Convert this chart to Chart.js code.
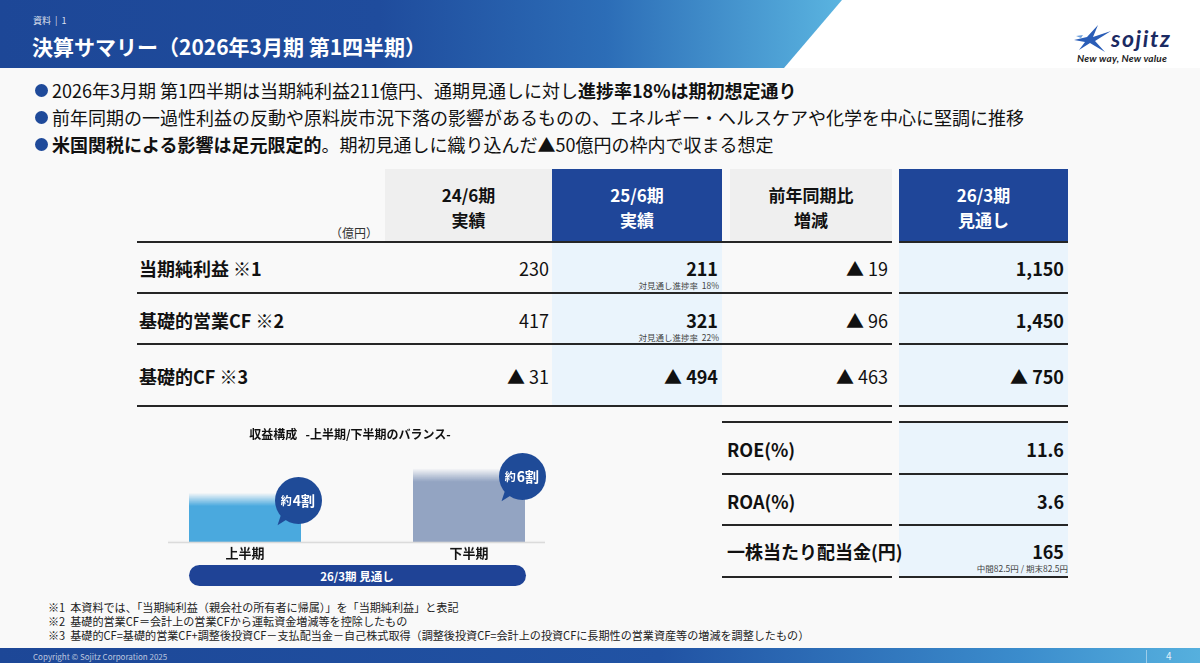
<!DOCTYPE html>
<html lang="ja">
<head>
<meta charset="utf-8">
<script src="https://cdn.jsdelivr.net/npm/chart.js@4.4.1/dist/chart.umd.min.js"></script>
<style>
*{margin:0;padding:0;box-sizing:border-box}
html,body{width:1200px;height:663px;overflow:hidden}
body{background:#f9f9f9;font-family:"Noto Sans CJK JP","Noto Sans",sans-serif;color:#111}
#page{position:relative;width:1200px;height:663px;overflow:hidden}
.bubble{position:absolute;width:47px;height:47px;border-radius:50%;background:#1f4b98;color:#fff;
  display:flex;align-items:center;justify-content:center;font-weight:700;white-space:nowrap}
.bubble::after{content:"";position:absolute;left:4px;bottom:-3px;width:0;height:0;border-style:solid;
  border-width:11px 9px 0 0;border-color:#1f4b98 transparent transparent transparent;transform:rotate(18deg)}
.bubble .s{font-size:11px;font-weight:700;margin-right:1px}
.bubble .b{font-size:14px;font-weight:700}
</style>
</head>
<body>
<div id="page">
  <div id="chartWrap" style="position:absolute;left:133px;top:440px;width:448px;height:121px">
    <canvas id="c"></canvas>
  </div>
</div>
<script>
// ---------- data ----------
const bulletLines = [
  '2026年3月期 第1四半期は当期純利益211億円、通期見通しに対し<b>進捗率18%は期初想定通り</b>',
  '前年同期の一過性利益の反動や原料炭市況下落の影響があるものの、エネルギー・ヘルスケアや化学を中心に堅調に推移',
  '<b>米国関税による影響は足元限定的</b>。期初見通しに織り込んだ▲50億円の枠内で収まる想定'
];
const columnHeads = [['24/6期','実績'],['25/6期','実績'],['前年同期比','増減'],['26/3期','見通し']];
const metricLabels = ['当期純利益 ※1','基礎的営業CF ※2','基礎的CF ※3'];
const prevQ1 = ['230','417','▲ 31'];
const currQ1 = ['211','321','▲ 494'];
const progressRates = ['18%','22%',null];
const yoyChange = ['▲ 19','▲ 96','▲ 463'];
const fyForecast = ['1,150','1,450','▲ 750'];
const ratioLabels = ['ROE(%)','ROA(%)','一株当たり配当金(円)'];
const ratioValues = ['11.6','3.6','165'];
const dividendNote = '中間82.5円 / 期末82.5円';
const halves = ['上半期','下半期'];
const halfShares = [40, 60];
const halfShareLabels = [['約','4割'],['約','6割']];
const footnotes = [
  '※1&nbsp;&nbsp;本資料では、「当期純利益（親会社の所有者に帰属）」を「当期純利益」と表記',
  '※2&nbsp;&nbsp;基礎的営業CF＝会計上の営業CFから運転資金増減等を控除したもの',
  '※3&nbsp;&nbsp;基礎的CF=基礎的営業CF+調整後投資CF－支払配当金－自己株式取得（調整後投資CF=会計上の投資CFに長期性の営業資産等の増減を調整したもの）'
];

// ---------- helpers ----------
const page = document.getElementById('page');
function box(l,t,w,h,css){
  const d=document.createElement('div');
  d.style.cssText=`position:absolute;left:${l}px;top:${t}px;width:${w}px;height:${h}px;${css||''}`;
  page.appendChild(d); return d;
}
function txt(s,o){
  const d=document.createElement('div');
  d.innerHTML=s;
  const lh=o.lh||Math.round(o.size*1.25);
  d.style.cssText=`position:absolute;white-space:nowrap;font-size:${o.size}px;line-height:${lh}px;height:${lh}px;top:${o.y-lh/2}px;font-weight:${o.w||400};color:${o.c||'#111'};${o.extra||''}`;
  if(o.r!==undefined){d.style.right=(1200-o.r)+'px';d.style.textAlign='right';}
  else if(o.cx!==undefined){d.style.left=(o.cx-300)+'px';d.style.width='600px';d.style.textAlign='center';}
  else d.style.left=o.l+'px';
  page.appendChild(d); return d;
}

// ---------- header ----------
box(0,0,1200,68,'background:#fff');
box(0,0,842,68,'clip-path:polygon(0 0,842px 0,784px 68px,0 68px);background:linear-gradient(90deg,#1d4797 0%,#1f4c9d 45%,#2c6db7 72%,#5ab4e0 100%)');
txt('資料&nbsp;&nbsp;|&nbsp;&nbsp;1',{l:33,y:20,size:9,c:'rgba(255,255,255,0.85)'});
txt('決算サマリー（2026年3月期 第1四半期）',{l:32,y:46,size:21,w:700,c:'#fff'});
// logo
const logo=document.createElement('div');
logo.style.cssText='position:absolute;left:1074px;top:25px;width:40px;height:30px';
logo.innerHTML='<svg width="38" height="28" viewBox="0 0 38 28"><polygon points="0,15 13,12 24,0 19,12 37,6 21,16 31,27 16,18 5,25 11,17" fill="#2a5db7"/><polygon points="2,11 9,10 7,13" fill="#6fa0dc"/></svg>';
page.appendChild(logo);
txt('sojitz',{l:1111,y:38,size:23,w:700,c:'#1b2a62',extra:'font-style:italic;font-family:Lato,"DejaVu Sans",sans-serif;letter-spacing:1.6px'});
txt('New way, New value',{l:1077,y:58,size:10,w:700,c:'#222',extra:'font-style:italic;font-family:Lato,"DejaVu Sans",sans-serif;letter-spacing:0.2px'});

// ---------- bullets ----------
bulletLines.forEach((s,i)=>{
  const y=90+i*27;
  box(35,y-6.5,13,13,'border-radius:50%;background:#1f4a9a');
  txt(s,{l:52,y:y,size:18,c:'#111'});
});

// ---------- main table ----------
const colL=[385,552,730,899], colW=[167,170,162,169];
const headBg=['#efefef','#1f4699','#efefef','#1f4699'];
const headFg=['#111','#fff','#111','#fff'];
colL.forEach((l,i)=>box(l,169,colW[i],73,'background:'+headBg[i]));
box(552,242,170,164,'background:#eaf4fc');
box(899,242,169,164,'background:#eaf4fc');
[242,293,344,406].forEach(y=>{box(137,y-1,755,2,'background:#262626');box(899,y-1,169,2,'background:#262626');});
columnHeads.forEach((h,i)=>{
  const cx=colL[i]+colW[i]/2;
  txt(h[0],{cx:cx,y:194,size:17,w:700,c:headFg[i]});
  txt(h[1],{cx:cx,y:219,size:17,w:700,c:headFg[i]});
});
txt('（億円）',{r:378,y:232,size:12,c:'#333'});
const rowY=[268,320,376];
metricLabels.forEach((s,i)=>{
  const y=rowY[i];
  txt(s,{l:139,y:y,size:18,w:700});
  txt(prevQ1[i],{r:549,y:y,size:18});
  txt(currQ1[i],{r:718,y:y,size:18,w:700});
  if(progressRates[i]) txt('対見通し進捗率&nbsp;&nbsp;'+progressRates[i],{r:719,y:y+17,size:8.5,c:'#444'});
  txt(yoyChange[i],{r:888,y:y,size:18});
  txt(fyForecast[i],{r:1064,y:y,size:18,w:700});
});

// ---------- ratio table ----------
box(899,422,169,155,'background:#eaf4fc');
[422,474,525,577].forEach(y=>{box(722,y-1,170,2,'background:#262626');box(899,y-1,169,2,'background:#262626');});
const ratioY=[449,501,551];
ratioLabels.forEach((s,i)=>{
  txt(s,{l:727,y:ratioY[i],size:18,w:700,lh:20});
  txt(ratioValues[i],{r:1064,y:ratioY[i],size:18,w:700,lh:20});
});
txt(dividendNote,{r:1068,y:568,size:8.5,c:'#444',lh:10});

// ---------- chart ----------
txt('収益構成&nbsp;&nbsp;&nbsp;-上半期/下半期のバランス-',{cx:350,y:433,size:12,w:700});
box(189,565,337,21,'border-radius:11px;background:#1f4396');
txt('26/3期&nbsp;見通し',{cx:357,y:575.5,size:11.5,w:700,c:'#fff'});

const barColors=['#4aa9de','#93a4c2'];
function withAlpha(hex,a){const n=parseInt(hex.slice(1),16);return `rgba(${n>>16&255},${n>>8&255},${n&255},${a})`;}
const baseline={id:'baseline',afterDatasetsDraw(chart){
  const {ctx,chartArea:a}=chart;ctx.save();ctx.strokeStyle='#d8d8d8';ctx.lineWidth=1.5;
  ctx.beginPath();ctx.moveTo(a.left+35,a.bottom+0.5);ctx.lineTo(a.right-36,a.bottom+0.5);ctx.stroke();ctx.restore();}};
const chart=new Chart(document.getElementById('c'),{
  type:'bar',
  data:{labels:halves,datasets:[{data:halfShares,
    backgroundColor:(ctx)=>{
      const ch=ctx.chart;const c=barColors[ctx.dataIndex]||barColors[0];
      if(!ch.chartArea||ctx.raw===undefined) return c;
      const top=ch.scales.y.getPixelForValue(ctx.raw);
      const g=ch.ctx.createLinearGradient(0,top,0,top+13);
      g.addColorStop(0,withAlpha(c,0));g.addColorStop(1,c);return g;},
    borderWidth:0,barPercentage:0.5,categoryPercentage:1}]},
  options:{responsive:true,maintainAspectRatio:false,animation:false,
    layout:{padding:{top:16,left:0,right:0,bottom:0}},
    plugins:{legend:{display:false},tooltip:{enabled:false},title:{display:false}},
    scales:{
      x:{grid:{display:false,drawTicks:false,tickLength:0},border:{display:false},
         ticks:{color:'#111',padding:3,font:{family:'"Noto Sans CJK JP"',size:13,weight:'bold'}}},
      y:{display:false,min:0,max:70}
    }},
  plugins:[baseline]
});
// place chart so its plot area bottom sits on the baseline of the reference (y=541)
(function fit(){
  const wrap=document.getElementById('chartWrap');
  const diff=541-(440+chart.chartArea.bottom);
  if(Math.abs(diff)>0.5){wrap.style.height=(121+diff)+'px';chart.resize();}
})();
const meta=chart.getDatasetMeta(0);
meta.data.forEach((el,i)=>{
  const b=document.createElement('div');b.className='bubble';
  b.innerHTML=`<span class="s">${halfShareLabels[i][0]}</span><span class="b">${halfShareLabels[i][1]}</span>`;
  b.style.left=(133+el.x+el.width/2-3-23.5)+'px';
  b.style.top=(440+el.y+8-23.5)+'px';
  page.appendChild(b);
});

// ---------- footnotes & footer ----------
footnotes.forEach((s,i)=>txt(s,{l:48,y:607+i*14,size:11.1,c:'#222',lh:14}));
box(0,648,1200,15,'background:linear-gradient(90deg,#1d4797 0%,#2153a4 55%,#3b8ccc 85%,#56b0de 100%)');
txt('Copyright © Sojitz Corporation 2025',{l:33,y:657,size:8,c:'rgba(255,255,255,0.7)',lh:10});
box(1146,650,1,13,'background:rgba(255,255,255,0.45)');
txt('4',{l:1166,y:656,size:10,c:'rgba(255,255,255,0.85)',lh:12});
</script>
</body>
</html>
